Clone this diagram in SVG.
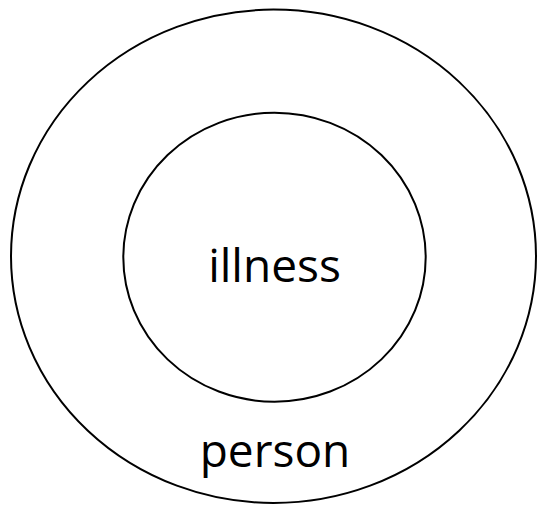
<svg xmlns="http://www.w3.org/2000/svg" width="537" height="506" viewBox="0 0 537 506">
<style>
.ring{fill:none;stroke:#000;stroke-width:2}
.lbl{font-family:"Open Sans","Noto Sans",sans-serif;font-size:46px;fill:#000;text-anchor:middle}
</style>
<rect width="537" height="506" fill="#fff"/>
<g id="person">
<ellipse class="ring" cx="273.5" cy="256.3" rx="262.5" ry="246.7"/>
<text class="lbl" x="275" y="466.7">person</text>
</g>
<g id="illness">
<ellipse class="ring" cx="274.5" cy="257.2" rx="151.2" ry="144.5"/>
<text class="lbl" x="274.5" y="281.7">illness</text>
</g>
<g id="connectors"/>
</svg>
